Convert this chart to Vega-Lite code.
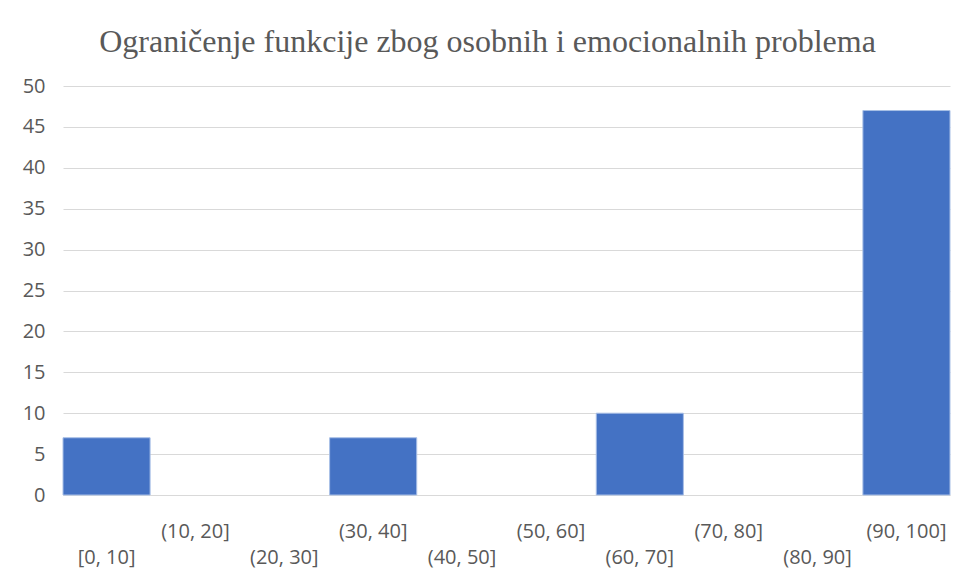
{
  "$schema": "https://vega.github.io/schema/vega-lite/v6.json",
  "autosize": {"type": "none"},
  "width": 887,
  "height": 409,
  "padding": {"left": 63, "top": 86, "right": 7, "bottom": 86},
  "background": "white",
  "title": {
    "text": "Ograničenje funkcije zbog osobnih i emocionalnih problema",
    "font": "Liberation Serif",
    "fontSize": 32,
    "fontWeight": "normal",
    "color": "#595959",
    "anchor": "middle",
    "frame": "group",
    "dx": -19,
    "offset": 17
  },
  "data": {
    "values": [
      {"bin": "[0, 10]", "count": 7},
      {"bin": "(10, 20]", "count": 0},
      {"bin": "(20, 30]", "count": 0},
      {"bin": "(30, 40]", "count": 7},
      {"bin": "(40, 50]", "count": 0},
      {"bin": "(50, 60]", "count": 0},
      {"bin": "(60, 70]", "count": 10},
      {"bin": "(70, 80]", "count": 0},
      {"bin": "(80, 90]", "count": 0},
      {"bin": "(90, 100]", "count": 47}
    ]
  },
  "mark": {"type": "bar", "color": "#4472c4", "stroke": "#a8bfe6", "strokeWidth": 1},
  "encoding": {
    "x": {
      "field": "bin",
      "type": "nominal",
      "sort": null,
      "scale": {"paddingInner": 0.02, "paddingOuter": 0},
      "axis": {
        "title": null,
        "labelAngle": 0,
        "labelFont": "Open Sans",
        "labelFontSize": 20,
        "labelColor": "#595959",
        "labelPadding": 26,
        "labelLineHeight": 26,
        "labelBaseline": "top",
        "ticks": false,
        "domainColor": "#d9d9d9",
        "domainWidth": 1,
        "labelExpr": "indexof(['[0, 10]','(20, 30]','(40, 50]','(60, 70]','(80, 90]'], datum.value) >= 0 ? ['', datum.value] : datum.value"
      }
    },
    "y": {
      "field": "count",
      "type": "quantitative",
      "scale": {"domain": [0, 50]},
      "axis": {
        "title": null,
        "values": [0, 5, 10, 15, 20, 25, 30, 35, 40, 45, 50],
        "labelFont": "Open Sans",
        "labelFontSize": 20,
        "labelColor": "#595959",
        "labelPadding": 18,
        "ticks": false,
        "domain": false,
        "gridColor": "#d9d9d9",
        "gridWidth": 1
      }
    },
    "strokeOpacity": {
      "condition": {"test": "datum.count == 0", "value": 0},
      "value": 1
    }
  },
  "config": {
    "view": {"stroke": null}
  }
}
